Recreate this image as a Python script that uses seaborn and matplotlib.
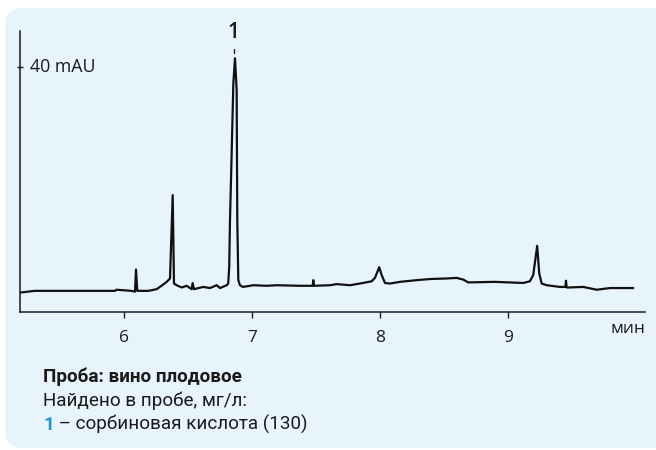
import matplotlib.pyplot as plt
import matplotlib.transforms as mtransforms
from matplotlib.patches import FancyBboxPatch
import seaborn as sns
import pandas as pd

# Chromatogram trace (time in min, signal in mAU)
time_min = [5.19, 5.30, 5.93, 5.94, 6.06, 6.086, 6.094, 6.104, 6.19, 6.256,
            6.299, 6.334, 6.360, 6.381, 6.391, 6.412, 6.451, 6.490, 6.529, 6.537,
            6.547, 6.620, 6.672, 6.725, 6.751, 6.803, 6.815, 6.823, 6.829, 6.842,
            6.855, 6.868, 6.881, 6.886, 6.894, 6.907, 6.93, 7.011, 7.116, 7.194,
            7.376, 7.476, 7.480, 7.486, 7.611, 7.663, 7.767, 7.869, 7.937, 7.962,
            7.996, 8.015, 8.041, 8.080, 8.158, 8.288, 8.392, 8.523, 8.601, 8.653,
            8.692, 8.901, 9.122, 9.174, 9.200, 9.231, 9.247, 9.266, 9.305, 9.409,
            9.452, 9.456, 9.462, 9.474, 9.591, 9.696, 9.800, 9.982]
signal_mau = [-0.1, 0.2, 0.2, 0.4, 0.2, 0.05, 4.0, 0.2, 0.2, 0.5,
              1.2, 1.8, 2.4, 17.2, 1.5, 1.2, 0.8, 1.1, 0.5, 1.6,
              0.5, 0.9, 0.7, 1.2, 0.7, 1.2, 1.5, 4.5, 12.8, 24.6,
              37.0, 41.5, 35.9, 12.8, 2.1, 1.2, 0.9, 1.2, 1.1, 1.2,
              1.1, 1.1, 2.1, 1.1, 1.2, 1.4, 1.2, 1.6, 1.9, 2.5,
              4.4, 3.0, 1.6, 1.5, 1.8, 2.1, 2.3, 2.4, 2.5, 2.2,
              1.7, 1.8, 1.6, 1.9, 3.0, 8.2, 3.3, 1.5, 1.2, 0.9,
              0.9, 2.0, 0.8, 0.8, 0.9, 0.4, 0.7, 0.7]

x_ticks = [6, 7, 8, 9]
y_ticks = [40]
y_label = "40 mAU"
x_unit = "мин"
peak_time = 6.868
peak_name = "1"

title_line = "Проба: вино плодовое"
found_line = "Найдено в пробе, мг/л:"
compound_line = "– сорбиновая кислота (130)"

df = pd.DataFrame({"t": time_min, "signal": signal_mau})

sns.set_style("ticks")
plt.rcParams["font.family"] = ["Open Sans", "DejaVu Sans"]

fig = plt.figure(figsize=(6.56, 4.5), dpi=100)
fig.patch.set_facecolor("white")

# light blue rounded background panel (pixel coordinates)
panel = FancyBboxPatch((5, 2), 720, 440, boxstyle="round,pad=0,rounding_size=18",
                       transform=mtransforms.IdentityTransform(),
                       facecolor="#e8f4fc", edgecolor="none", zorder=-5)
fig.add_artist(panel)

ax = fig.add_axes([20 / 656, 138.3 / 450, 625 / 656, 281 / 450])
ax.patch.set_alpha(0)

sns.lineplot(data=df, x="t", y="signal", ax=ax, color="#111111", linewidth=1.6,
             estimator=None, sort=False)

ax.set_xlim(5.187, 10.074)
ax.set_ylim(-3.5, 46.4)
ax.set_xticks(x_ticks)
ax.set_xticklabels([str(v) for v in x_ticks], fontsize=12.5, color="#1a1a1a")
ax.set_yticks(y_ticks)
ax.set_yticklabels([])
ax.tick_params(axis="x", direction="out", length=4, width=1, pad=9, colors="#1a1a1a")
ax.tick_params(axis="y", direction="inout", length=4, width=1, colors="#1a1a1a")
ax.set_xlabel("")
ax.set_ylabel("")
for side in ["top", "right"]:
    ax.spines[side].set_visible(False)
for side in ["left", "bottom"]:
    ax.spines[side].set_linewidth(1.1)
    ax.spines[side].set_color("#1a1a1a")

ax.text(0.016, 40, y_label, transform=ax.get_yaxis_transform(), fontsize=12.8,
        va="center", ha="left", color="#1a1a1a")

# peak label with short dash under it
ax.text(peak_time - 0.01, 44.2, peak_name, fontsize=15, fontweight="semibold",
        ha="center", va="bottom", color="#1a1a1a")
ax.plot([peak_time - 0.01, peak_time - 0.01], [42.4, 43.1], color="#1a1a1a", lw=1)

fig.text(628 / 656, 1 - 333 / 450, x_unit, fontsize=12.5, ha="center", va="baseline",
         color="#1a1a1a")

# caption block
txt_font = ["Roboto", "DejaVu Sans"]
fs = 13.6
fig.text(43 / 656, 1 - 377 / 450, title_line, fontsize=fs, fontweight="bold",
         va="center", ha="left", color="#1a1a1a", family=txt_font)
fig.text(43 / 656, 1 - 401 / 450, found_line, fontsize=fs, va="center", ha="left",
         color="#1a1a1a", family=txt_font)
num = fig.text(43 / 656, 1 - 425 / 450, "1", fontsize=fs, fontweight="bold",
               va="center", ha="left", color="#1e96d2", family=txt_font)
ax.annotate(" " + compound_line, xy=(1, 0), xycoords=num, xytext=(0, 0),
            textcoords="offset points", fontsize=fs, va="bottom", ha="left",
            color="#1a1a1a", family=txt_font)

fig.savefig("out.png", dpi=100)
